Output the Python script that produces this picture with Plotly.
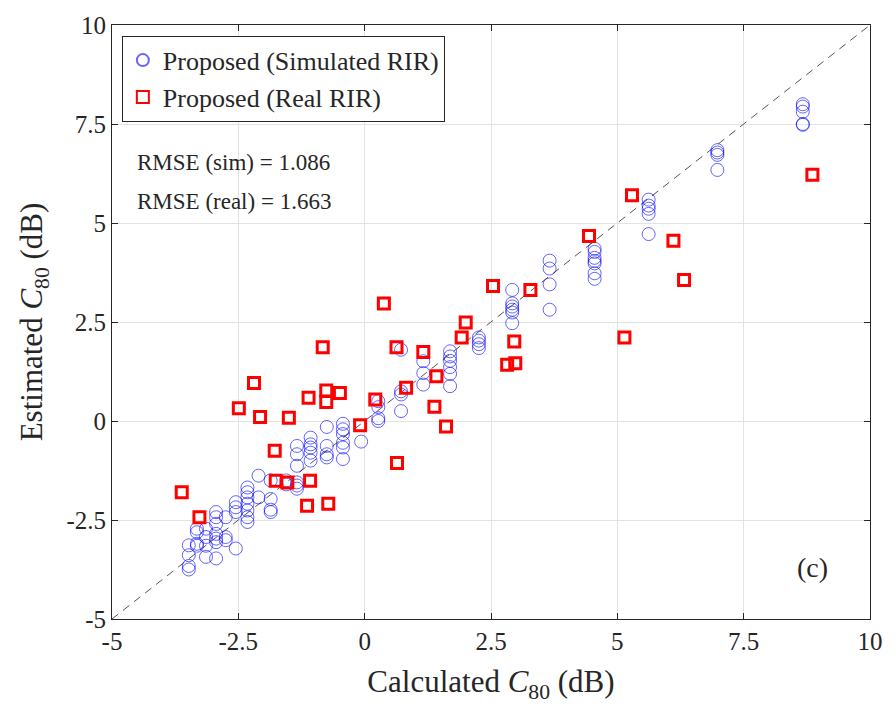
import plotly.graph_objects as go

# Simulated RIR estimates (x = calculated C80, y = estimated C80)
sim_x = ([-3.48]*4 + [-3.32]*4 + [-3.14]*4 + [-2.94]*7 + [-2.75]*3 + [-2.55]*4 +
         [-2.32]*7 + [-2.10]*2 + [-1.86]*4 + [-1.55]*2 + [-1.34]*6 + [-1.07]*5 +
         [-0.75]*4 + [-0.43]*6 + [-0.07]*1 + [0.27]*4 + [0.72]*4 + [1.16]*3 +
         [1.69]*6 + [2.26]*4 + [2.92]*6 + [3.66]*4 + [4.55]*7 + [5.62]*5 +
         [6.98]*4 + [8.67]*5)
sim_y = [-3.14, -3.39, -3.66, -3.75,
         -2.72, -2.81, -3.10, -3.15,
         -2.72, -2.93, -3.43, -3.15,
         -2.30, -2.43, -2.60, -2.85, -2.97, -3.06, -3.47,
         -2.43, -2.93, -3.01,
         -2.05, -2.18, -2.30, -3.22,
         -1.68, -1.80, -1.93, -2.09, -2.26, -2.43, -2.55,
         -1.38, -1.93,
         -1.50, -1.97, -2.24, -2.30,
         -1.50, -1.60,
         -0.63, -0.84, -1.13, -1.55, -1.63, -1.71,
         -0.42, -0.59, -0.67, -0.80, -1.00,
         -0.15, -0.63, -0.84, -0.92,
         -0.07, -0.21, -0.33, -0.55, -0.67, -0.96,
         -0.52,
         0.50, 0.35, 0.07, 0.00,
         1.80, 0.75, 0.67, 0.25,
         1.51, 1.21, 0.92,
         1.76, 1.63, 1.52, 1.36, 1.19, 0.88,
         2.11, 2.03, 1.94, 1.84,
         3.31, 2.97, 2.89, 2.81, 2.74, 2.47,
         4.05, 3.85, 3.45, 2.81,
         4.35, 4.27, 4.12, 4.04, 3.98, 3.73, 3.59,
         5.59, 5.44, 5.36, 5.23, 4.72,
         6.84, 6.78, 6.72, 6.34,
         8.00, 7.94, 7.81, 7.50, 7.48]

# Real RIR estimates
real_x = [-3.62, -3.27, -2.49, -2.19, -2.07, -1.78, -1.76, -1.53, -1.50, -1.11,
          -1.08, -1.14, -0.83, -0.76, -0.76, -0.72, -0.49, -0.09, 0.21, 0.38,
          0.63, 0.64, 0.82, 1.16, 1.38, 1.42, 1.61, 1.92, 2.00, 2.54,
          2.82, 2.98, 2.96, 3.28, 4.44, 5.14, 5.29, 6.11, 6.32, 8.86]
real_y = [-1.80, -2.43, 0.32, 0.96, 0.10, -0.75, -1.51, -1.55, 0.08, 0.59,
          -1.51, -2.14, 1.86, 0.77, 0.48, -2.09, 0.71, -0.11, 0.54, 2.97,
          1.86, -1.06, 0.84, 1.74, 0.36, 1.13, -0.14, 2.11, 2.49, 3.41,
          1.42, 1.46, 2.01, 3.31, 4.67, 2.11, 5.70, 4.55, 3.56, 6.22]

diag = [-5, 10]
tick_vals = [-5, -2.5, 0, 2.5, 5, 7.5, 10]
tick_text = ["-5", "-2.5", "0", "2.5", "5", "7.5", "10"]
rmse_lines = ["RMSE (sim) = 1.086", "RMSE (real) = 1.663"]
rmse_y = [6.53, 5.55]
panel_label = "(c)"

FONT = "Liberation Serif, DejaVu Serif, serif"
INK = "#262626"

fig = go.Figure()
fig.add_trace(go.Scatter(x=diag, y=diag, mode="lines",
                         line=dict(color="#555555", width=1, dash="8px,6px"),
                         showlegend=False, hoverinfo="skip"))
fig.add_trace(go.Scatter(x=sim_x, y=sim_y, mode="markers",
                         name="Proposed (Simulated RIR)",
                         marker=dict(symbol="circle-open", size=13,
                                     color="rgba(0,0,255,0.6)",
                                     line=dict(width=1, color="rgba(0,0,255,0.6)"))))
fig.add_trace(go.Scatter(x=real_x, y=real_y, mode="markers",
                         name="Proposed (Real RIR)",
                         marker=dict(symbol="square-open", size=11,
                                     color="#ff0000",
                                     line=dict(width=3, color="#ff0000"))))

axis_common = dict(range=[-5, 10], tickvals=tick_vals, ticktext=tick_text,
                   showgrid=True, gridcolor="#e3e3e3", gridwidth=1,
                   zeroline=False, showline=True, linecolor=INK,
                   linewidth=1, mirror="ticks", ticks="inside", ticklen=6,
                   tickcolor=INK,
                   tickfont=dict(family=FONT, size=25, color=INK))

fig.update_xaxes(**axis_common,
                 title=dict(text="Calculated <i>C</i><sub>80</sub> (dB)",
                            font=dict(family=FONT, size=31, color=INK),
                            standoff=16))
fig.update_yaxes(**axis_common,
                 title=dict(text="Estimated <i>C</i><sub>80</sub> (dB)",
                            font=dict(family=FONT, size=31, color=INK),
                            standoff=14))

for t, yy in zip(rmse_lines, rmse_y):
    fig.add_annotation(x=-4.55, y=yy, text=t, showarrow=False,
                       xanchor="left", yanchor="middle",
                       font=dict(family=FONT, size=23, color=INK))
fig.add_annotation(x=8.87, y=-3.69, text=panel_label, showarrow=False,
                   xanchor="center", yanchor="middle",
                   font=dict(family=FONT, size=28, color=INK))

fig.update_layout(
    width=895, height=707,
    margin=dict(l=112, r=19, t=22, b=88),
    plot_bgcolor="white", paper_bgcolor="white",
    legend=dict(x=0.013, y=0.982, xanchor="left", yanchor="top",
                bgcolor="white", bordercolor=INK, borderwidth=1,
                font=dict(family=FONT, size=26, color=INK),
                itemsizing="constant", tracegroupgap=0),
)

fig.write_html("out.html")
